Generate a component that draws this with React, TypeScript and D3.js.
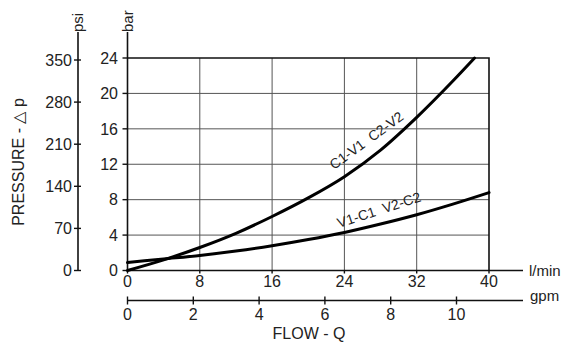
import React, { useEffect, useRef } from 'react';
import * as d3 from 'd3';

// ticks
const barTicks = [0, 4, 8, 12, 16, 20, 24];
const psiTicks = [0, 70, 140, 210, 280, 350];
const lminTicks = [0, 8, 16, 24, 32, 40];
const gpmTicks = [0, 2, 4, 6, 8, 10];

// curves (flow l/min -> pressure bar)
const c1v1Flow = [0, 4, 8, 12, 16, 20, 24, 28, 32, 36, 38.4];
const c1v1Bar = [0, 1.2, 2.6, 4.2, 6.1, 8.2, 10.6, 13.6, 17.3, 21.4, 24];
const v1c1Flow = [0, 4, 8, 12, 16, 20, 24, 28, 32, 36, 40];
const v1c1Bar = [0.9, 1.3, 1.7, 2.2, 2.8, 3.5, 4.3, 5.25, 6.3, 7.5, 8.8];

const FONT = 'Liberation Sans, Arial, sans-serif';

const App = () => {
  const ref = useRef<SVGSVGElement>(null);

  useEffect(() => {
    const width = 563;
    const height = 343;
    const left = 127.5;
    const right = 489;
    const top = 58;
    const bottom = 270.5;

    const x = d3.scaleLinear().domain([0, 40]).range([left, right]);
    const y = d3.scaleLinear().domain([0, 24]).range([bottom, top]);
    const yPsi = d3.scaleLinear().domain([0, 350]).range([bottom, 60]);
    const xGpm = d3.scaleLinear().domain([0, 10]).range([left, 456.5]);

    const svg = d3.select(ref.current);
    svg.selectAll('*').remove();
    svg.attr('width', width).attr('height', height);

    svg.append('rect').attr('width', width).attr('height', height).attr('fill', '#fff');

    const g = svg.append('g').attr('font-family', FONT).attr('fill', '#222');

    // grid
    g.selectAll('.vgrid')
      .data(lminTicks.slice(1, -1))
      .enter()
      .append('line')
      .attr('x1', d => x(d)).attr('x2', d => x(d))
      .attr('y1', top).attr('y2', bottom)
      .attr('stroke', '#555').attr('stroke-width', 1);
    g.selectAll('.hgrid')
      .data(barTicks.slice(1, -1))
      .enter()
      .append('line')
      .attr('x1', left).attr('x2', right)
      .attr('y1', d => y(d)).attr('y2', d => y(d))
      .attr('stroke', '#555').attr('stroke-width', 1);

    // frame top / right
    g.append('path')
      .attr('d', `M${left},${top}H${right}V${bottom}`)
      .attr('fill', 'none').attr('stroke', '#111').attr('stroke-width', 1.6);

    // bar axis
    g.append('line')
      .attr('x1', left).attr('x2', left).attr('y1', 32).attr('y2', bottom)
      .attr('stroke', '#111').attr('stroke-width', 1.6);
    g.selectAll('.bartick')
      .data(barTicks)
      .enter()
      .append('line')
      .attr('x1', left - 5).attr('x2', left)
      .attr('y1', d => y(d)).attr('y2', d => y(d))
      .attr('stroke', '#111').attr('stroke-width', 1.4);
    g.selectAll('.barlab')
      .data(barTicks)
      .enter()
      .append('text')
      .attr('x', 118).attr('y', d => y(d))
      .attr('dy', '0.36em')
      .attr('text-anchor', 'end')
      .attr('font-size', 16)
      .text(d => d);
    g.append('text')
      .attr('transform', `translate(${left + 5},32) rotate(-90)`)
      .attr('font-size', 15)
      .text('bar');

    // psi axis
    const psiX = 78;
    g.append('line')
      .attr('x1', psiX).attr('x2', psiX).attr('y1', 32).attr('y2', yPsi(0))
      .attr('stroke', '#111').attr('stroke-width', 1.6);
    g.selectAll('.psitick')
      .data(psiTicks)
      .enter()
      .append('line')
      .attr('x1', psiX - 4).attr('x2', psiX + 3)
      .attr('y1', d => yPsi(d)).attr('y2', d => yPsi(d))
      .attr('stroke', '#111').attr('stroke-width', 1.4);
    g.selectAll('.psilab')
      .data(psiTicks)
      .enter()
      .append('text')
      .attr('x', 72).attr('y', d => yPsi(d))
      .attr('dy', '0.36em')
      .attr('text-anchor', 'end')
      .attr('font-size', 16)
      .text(d => d);
    g.append('text')
      .attr('transform', `translate(${psiX + 5},32) rotate(-90)`)
      .attr('font-size', 15)
      .text('psi');

    g.append('text')
      .attr('transform', `translate(24,162) rotate(-90)`)
      .attr('text-anchor', 'middle')
      .attr('font-size', 16)
      .text('PRESSURE - \u25B3 p');

    // l/min axis
    g.append('line')
      .attr('x1', left).attr('x2', 523).attr('y1', bottom).attr('y2', bottom)
      .attr('stroke', '#111').attr('stroke-width', 1.6);
    g.selectAll('.ltick')
      .data(lminTicks)
      .enter()
      .append('line')
      .attr('x1', d => x(d)).attr('x2', d => x(d))
      .attr('y1', bottom).attr('y2', bottom + 3)
      .attr('stroke', '#111').attr('stroke-width', 1.4);
    g.selectAll('.llab')
      .data(lminTicks)
      .enter()
      .append('text')
      .attr('x', d => x(d)).attr('y', 287)
      .attr('text-anchor', 'middle')
      .attr('font-size', 16)
      .text(d => d);
    g.append('text')
      .attr('x', 529).attr('y', 276)
      .attr('font-size', 15)
      .text('l/min');

    // gpm axis
    const gpmY = 300.5;
    g.append('line')
      .attr('x1', left).attr('x2', 523).attr('y1', gpmY).attr('y2', gpmY)
      .attr('stroke', '#111').attr('stroke-width', 1.6);
    g.selectAll('.gtick')
      .data(gpmTicks)
      .enter()
      .append('line')
      .attr('x1', d => xGpm(d)).attr('x2', d => xGpm(d))
      .attr('y1', gpmY - 4).attr('y2', gpmY + 4)
      .attr('stroke', '#111').attr('stroke-width', 1.4);
    g.selectAll('.glab')
      .data(gpmTicks)
      .enter()
      .append('text')
      .attr('x', d => xGpm(d)).attr('y', 320)
      .attr('text-anchor', 'middle')
      .attr('font-size', 16)
      .text(d => d);
    g.append('text')
      .attr('x', 530).attr('y', 301)
      .attr('font-size', 15)
      .text('gpm');

    g.append('text')
      .attr('x', 309).attr('y', 339)
      .attr('text-anchor', 'middle')
      .attr('font-size', 16)
      .text('FLOW - Q');

    // curves
    const line = d3
      .line<[number, number]>()
      .x(d => x(d[0]))
      .y(d => y(d[1]))
      .curve(d3.curveMonotoneX);

    const c1 = c1v1Flow.map((f, i) => [f, c1v1Bar[i]] as [number, number]);
    const c2 = v1c1Flow.map((f, i) => [f, v1c1Bar[i]] as [number, number]);

    [c1, c2].forEach(pts => {
      g.append('path')
        .attr('d', line(pts))
        .attr('fill', 'none')
        .attr('stroke', '#000')
        .attr('stroke-width', 3)
        .attr('stroke-linecap', 'round');
    });

    // curve labels
    g.append('text')
      .attr('transform', 'translate(334,170) rotate(-36)')
      .attr('font-size', 14)
      .style('white-space', 'pre')
      .text('C1-V1  C2-V2');
    g.append('text')
      .attr('transform', 'translate(339,228) rotate(-18)')
      .attr('font-size', 14)
      .style('white-space', 'pre')
      .text('V1-C1  V2-C2');
  }, []);

  return (
    <svg ref={ref} style={{ position: 'absolute', left: 0, top: 0, display: 'block' }} />
  );
};

export default App;
